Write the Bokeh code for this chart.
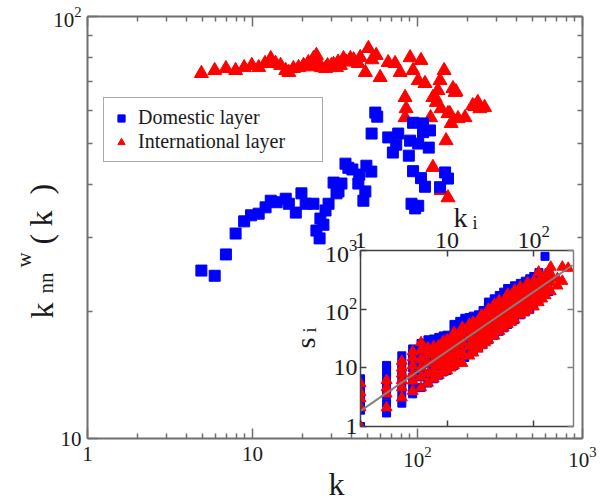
import math
from bokeh.plotting import figure
from bokeh.models import (LogAxis, FixedTicker, LogTickFormatter, CustomJSTickFormatter, Label,
                          Legend, LegendItem, Range1d)
from bokeh.embed import file_html
from bokeh.resources import INLINE

# ---------------- main panel data ----------------
dom_k = [4.9, 5.9, 6.9, 7.9, 8.9, 9.8, 10.9, 12.0, 12.9, 14.0, 15.9, 16.6, 18.3, 19.8, 21.0, 23.4,
         24.4, 25.5, 25.8, 26.9, 27.7, 28.9, 31.0, 32.3, 33.2, 34.6, 36.6, 38.1, 40.3, 43.8, 44.4,
         47.0, 48.3, 49.0, 52.5, 52.7, 55.5, 57.0, 66.5, 70.9, 74.3, 76.4, 88.6, 90.2, 92.0, 94.0,
         94.0, 96.8, 101, 101, 105, 108, 108, 111, 117, 119, 137, 147, 153]
dom_knn = [25.0, 24.3, 27.3, 30.6, 32.7, 33.8, 34.1, 35.3, 36.6, 36.3, 37.0, 36.0, 34.3, 38.1, 36.0, 36.0,
           31.1, 29.8, 33.2, 32.1, 34.7, 36.0, 40.4, 38.1, 38.5, 40.2, 44.8, 43.8, 43.4, 40.2, 42.2,
           36.6, 38.5, 44.3, 42.9, 52.8, 59.2, 57.9, 51.7, 47.6, 49.7, 52.8, 46.8, 50.8, 36.0, 56.0,
           43.0, 35.1, 50.0, 35.6, 41.4, 53.2, 55.8, 39.5, 48.9, 53.7, 39.4, 42.7, 41.3]

int_k = [4.9, 5.9, 6.9, 7.9, 8.9, 9.9, 10.9, 11.9, 12.9, 13.8, 14.8, 15.9, 16.6, 17.7, 19.0, 20.4,
         21.8, 22.5, 23.4, 24.4, 25.0, 26.2, 27.7, 28.5, 30.1, 31.0, 32.3, 33.0, 34.1, 35.6, 37.0,
         39.2, 41.0, 43.7, 45.0, 48.3, 50.4, 53.0, 56.2, 59.4, 66.4, 73.1, 78.5, 84.1, 85.3, 84.1,
         90.2, 94.0, 101, 105, 111, 120, 124, 124, 128, 130, 133, 137, 139, 139, 145, 149, 153, 153,
         157, 160, 164, 169, 171, 176, 194, 216, 223, 232, 239, 255]
int_knn = [73.3, 74.5, 75.3, 74.5, 75.7, 76.6, 75.7, 77.4, 79.5, 77.4, 76.6, 74.5, 73.7, 75.3, 75.7, 76.6,
           77.8, 76.0, 79.5, 80.9, 77.0, 75.7, 75.3, 76.5, 76.6, 77.0, 75.7, 78.0, 76.6, 79.5, 78.0,
           79.5, 79.0, 77.4, 80.0, 73.7, 84.0, 79.0, 80.9, 71.7, 77.8, 77.4, 73.7, 64.3, 60.5, 57.6,
           79.9, 74.5, 70.5, 78.7, 69.4, 57.6, 64.3, 43.9, 64.3, 62.6, 66.8, 70.5, 60.5, 38.7, 74.5,
           50.8, 58.9, 37.2, 58.9, 55.8, 67.5, 66.1, 66.4, 57.3, 57.6, 61.5, 61.2, 62.6, 60.5, 60.9]

main_x_ticks = [1, 10, 100, 1000]
main_x_minor = [2, 3, 4, 5, 6, 7, 8, 9, 20, 30, 40, 50, 60, 70, 80, 90,
                200, 300, 400, 500, 600, 700, 800, 900]
main_y_ticks = [10, 100]
main_y_minor = [20, 30, 40, 50, 60, 70, 80, 90]

# ---------------- inset data (s_i vs k_i) ----------------
ins_dom_k = [1, 1, 1, 1, 1, 1, 1,
             2, 2, 2, 2, 2, 2, 2,
             3, 3, 3, 3, 3, 3, 3,
             4, 4, 4, 4, 4, 4, 4,
             5, 5, 5, 5, 5, 5,
             6, 6, 6, 6, 6, 6,
             7, 7, 7, 7, 7,
             8, 8, 8, 8, 8,
             9, 9, 9, 9, 9,
             10, 10, 10, 10, 10,
             12, 12, 12, 12, 12,
             14, 14, 14, 14, 14,
             16, 16, 16, 16, 16,
             18, 18, 18, 18, 18,
             20, 20, 20, 20, 20,
             23, 23, 23, 23,
             26, 26, 26, 26,
             30, 30, 30, 30, 30,
             35, 35, 35, 35, 35,
             40, 40, 40, 40, 40,
             45, 45, 45, 45, 45,
             50, 50, 50, 50, 50,
             60, 60, 60, 60, 60,
             70, 70, 70, 70, 70,
             80, 80, 80, 80, 80,
             90, 90, 90, 90, 90,
             100, 100, 100, 100, 100,
             115, 115, 115, 115, 115,
             135,
             150, 150, 150]
ins_dom_s = [1, 1.9, 2.5, 3.2, 4, 5, 6.5,
             1.7, 2.5, 3.5, 5, 7, 9, 11,
             2.5, 3.5, 5, 7, 9, 12, 16,
             3.6, 5, 7, 10, 13, 17, 21,
             4.6, 7, 10, 14, 19, 26,
             5.5, 8, 12, 17, 24, 30,
             6.5, 10, 14, 20, 31,
             7.5, 11, 16, 23, 33,
             8.5, 13, 19, 26, 35,
             9, 14, 21, 30, 36,
             11, 17, 26, 40, 55,
             13, 20, 30, 45, 62,
             15, 24, 36, 55, 70,
             17, 28, 42, 60, 72,
             19, 30, 46, 66, 76,
             22, 35, 52, 80,
             25, 40, 60, 95,
             30, 45, 70, 110, 132,
             36, 55, 85, 125, 150,
             42, 62, 95, 140, 171,
             48, 70, 110, 160, 195,
             55, 80, 120, 180, 225,
             66, 95, 145, 210, 250,
             80, 110, 170, 240, 275,
             90, 130, 190, 260, 300,
             100, 150, 210, 290, 330,
             115, 170, 240, 320, 360,
             140, 200, 280, 380, 420,
             795,
             200, 300, 420]

ins_int_k = [1, 1, 1, 1, 1,
             2, 2, 2, 2,
             3, 3, 3, 3, 3, 3,
             4, 4, 4, 4, 4, 4,
             5, 5, 5, 5, 5, 5,
             6, 6, 6, 6, 6,
             7, 7, 7, 7, 7,
             8, 8, 8, 8, 8,
             9, 9, 9, 9, 9,
             10, 10, 10, 10, 10,
             11, 11, 11, 11,
             12, 12, 12, 12, 12,
             13.5, 13.5, 13.5, 13.5,
             15, 15, 15, 15, 15,
             18, 18, 18, 18, 18,
             20, 20, 20, 20, 20,
             22.5, 22.5, 22.5, 22.5,
             25, 25, 25, 25, 25,
             27.5, 27.5, 27.5, 27.5,
             30, 30, 30, 30, 30,
             35, 35, 35, 35, 35,
             40, 40, 40, 40, 40,
             45, 45, 45, 45,
             50, 50, 50, 50, 50,
             55, 55, 55, 55,
             60, 60, 60, 60, 60,
             70, 70, 70, 70, 70,
             77, 77, 77, 77,
             85, 85, 85, 85, 85,
             100, 100, 100, 100, 100,
             114, 114, 114, 114, 114,
             125, 125, 125,
             137, 137, 137, 137,
             157, 157, 157, 157,
             188, 188,
             214, 214,
             250]
ins_int_s = [1, 2.1, 3.0, 3.8, 5.4,
             2.1, 3.6, 4.6, 6.1,
             3.1, 4.6, 6.1, 7.9, 10, 13,
             4, 6, 8, 11, 15, 19,
             4.6, 7, 10, 14, 20, 27,
             5.5, 8, 12, 17, 22,
             6.5, 9, 13, 18, 23,
             7.5, 11, 15, 20, 24,
             8.5, 12, 17, 22, 28,
             9, 13, 19, 25, 30,
             10, 15, 22, 29,
             11, 16, 23, 31, 40,
             12, 17, 25, 36,
             12, 18, 27, 38, 49,
             16, 23, 33, 45, 55,
             18, 26, 37, 50, 60,
             21, 30, 43, 62,
             24, 33, 47, 65, 80,
             27, 38, 53, 75,
             30, 42, 58, 80, 100,
             35, 50, 70, 95, 120,
             42, 58, 80, 110, 140,
             48, 66, 92, 125,
             55, 75, 100, 140, 180,
             60, 85, 115, 160,
             66, 90, 120, 165, 210,
             80, 105, 140, 190, 240,
             88, 120, 160, 215,
             95, 130, 170, 230, 280,
             110, 150, 200, 260, 300,
             130, 175, 230, 300, 430,
             150, 210, 280,
             171, 230, 300, 380,
             200, 280, 400, 523,
             250, 331,
             300, 523,
             500]

fit_k = [1, 280]
fit_s = [1.85, 560]

ins_x_ticks = [1, 10, 100]
ins_y_ticks = [1, 10, 100, 1000]

SERIF = "Liberation Serif"
AXIS_COL = "#6f6f6f"
TXT = "#1a1a1a"

# ---------------- main figure ----------------
p = figure(width=609, height=502, x_axis_type="log", y_axis_type="log",
           x_range=Range1d(1, 1000), y_range=Range1d(10, 100),
           output_backend="svg", toolbar_location=None, name="main",
           min_border_left=87, min_border_right=27, min_border_top=16, min_border_bottom=64)
p.outline_line_color = None
p.grid.visible = False
p.background_fill_color = "white"
p.border_fill_color = "white"


def style_axis(ax, ticks, minor, show_labels, col=AXIS_COL, maj=10, mnr=5, lw=2, fs="21px", standoff=8):
    ax.ticker = FixedTicker(ticks=ticks, minor_ticks=minor)
    ax.axis_line_color = col
    ax.axis_line_width = lw
    ax.major_tick_line_color = col
    ax.minor_tick_line_color = col
    ax.major_tick_line_width = 1.5
    ax.minor_tick_line_width = 1.5
    ax.major_tick_in = maj
    ax.major_tick_out = 0
    ax.minor_tick_in = mnr
    ax.minor_tick_out = 0
    ax.major_label_text_font = SERIF
    ax.major_label_text_color = TXT
    if show_labels:
        ax.formatter = LogTickFormatter(min_exponent=2)
        ax.major_label_text_font_size = fs
        ax.major_label_standoff = standoff
    else:
        ax.formatter = CustomJSTickFormatter(code="return ' '")
        ax.major_label_text_font_size = "2px"
        ax.major_label_text_alpha = 0
        ax.major_label_standoff = 0


style_axis(p.xaxis[0], main_x_ticks, main_x_minor, True, standoff=8)
style_axis(p.yaxis[0], main_y_ticks, main_y_minor, True, standoff=6)
top_ax = LogAxis()
right_ax = LogAxis()
style_axis(top_ax, main_x_ticks, main_x_minor, False)
style_axis(right_ax, main_y_ticks, main_y_minor, False)
p.add_layout(top_ax, "above")
p.add_layout(right_ax, "right")

r_int = p.scatter(int_k, int_knn, marker="triangle", size=14, fill_color="#ff0000",
                  line_color="#ff0000")
r_dom = p.scatter(dom_k, dom_knn, marker="square", size=11, fill_color="#0000ff",
                  line_color="#0000ff")

legend = Legend(items=[LegendItem(label="Domestic layer", renderers=[r_dom]),
                       LegendItem(label="International layer", renderers=[r_int])],
                location=(16, 276), padding=8, spacing=1, margin=0,
                glyph_width=18, glyph_height=20, label_height=20, label_standoff=8,
                label_width=176,
                label_text_font=SERIF, label_text_font_size="20px", label_text_color=TXT,
                border_line_color="#555555", border_line_width=1.5,
                background_fill_color="white", background_fill_alpha=1)
p.add_layout(legend, "center")

# ---------------- inset figure ----------------
ins = figure(width=290, height=245, x_axis_type="log", y_axis_type="log",
             x_range=Range1d(1, 288), y_range=Range1d(1, 1000), x_axis_location="above",
             output_backend="svg", toolbar_location=None, name="inset",
             min_border_left=70, min_border_right=7, min_border_top=55, min_border_bottom=14)
ins.outline_line_color = None
ins.grid.visible = False
ins.background_fill_color = "white"
ins.border_fill_alpha = 0
INS_COL = "#404040"
style_axis(ins.xaxis[0], ins_x_ticks, [], True, col=INS_COL, maj=6, lw=1.5, fs="24px", standoff=3)
style_axis(ins.yaxis[0], ins_y_ticks, [], True, col=INS_COL, maj=6, lw=1.5, fs="24px", standoff=3)
ib = LogAxis()
ir = LogAxis()
style_axis(ib, ins_x_ticks, [], False, col=INS_COL, maj=6, lw=1.5)
style_axis(ir, ins_y_ticks, [], False, col="#808080", maj=6, lw=1.5)
ins.add_layout(ib, "below")
ins.add_layout(ir, "right")

ins.scatter(ins_dom_k, ins_dom_s, marker="square", size=8, fill_color="#0000ff", line_color="#0000ff")
ins.scatter(ins_int_k, ins_int_s, marker="triangle", size=11, fill_color="#ff0000", line_color="#ff0000")
ins.line(fit_k, fit_s, line_color="#808080", line_width=2)

# ---------------- transparent overlay carrying the axis titles ----------------
ov = figure(width=609, height=502, x_range=Range1d(0, 609), y_range=Range1d(0, 502),
            x_axis_location=None, y_axis_location=None, output_backend="svg",
            toolbar_location=None, name="titles", min_border=0)
ov.outline_line_color = None
ov.grid.visible = False
ov.background_fill_alpha = 0
ov.border_fill_alpha = 0

H = 502


def title(t, x, y, fs, rot=False, align="left", baseline="alphabetic"):
    ov.add_layout(Label(x=x, y=H - y, x_units="screen", y_units="screen", text=t,
                        angle=(math.pi / 2 if rot else 0), text_font=SERIF, text_font_size=fs,
                        text_align=align, text_baseline=baseline, text_color=TXT))


# main x title
title("k", 336, 483, "32px", align="center", baseline="middle")
# main y title  k_nn^w(k)
title("k", 41, 318, "32px", rot=True)
title("nn", 45, 293, "21px", rot=True)
title("w", 23, 267, "21px", rot=True)
title("(", 40, 244, "32px", rot=True)
title("k", 40, 226, "32px", rot=True)
title(")", 40, 194, "32px", rot=True)
# inset titles
title("k", 453, 217, "28px")
title("i", 472, 222, "18px")
title("s", 305, 348, "28px", rot=True)
title("i", 309, 332, "18px", rot=True)

template = """
{% from macros import embed %}
{% block preamble %}
<style>html, body { margin: 0 !important; padding: 0 !important; overflow: hidden; }</style>
{% endblock %}
{% block contents %}
<div style="position:absolute; left:0px; top:0px; width:609px; height:502px;">
  <div style="position:absolute; left:0px; top:0px;">{{ embed(roots.main) }}</div>
  <div style="position:absolute; left:290px; top:195px;">{{ embed(roots.inset) }}</div>
  <div style="position:absolute; left:0px; top:0px;">{{ embed(roots.titles) }}</div>
</div>
{% endblock %}
"""

html = file_html([p, ins, ov], INLINE, title="knn", template=template)
open("out.html", "w").write(html)
